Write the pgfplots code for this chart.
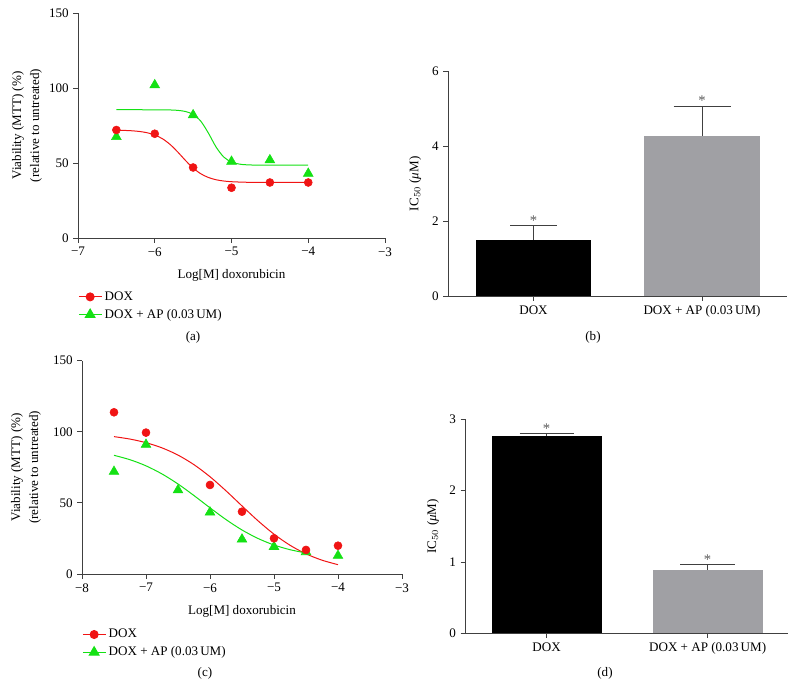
\documentclass[border=0pt]{standalone}
\usepackage{fontspec}
\setmainfont{Liberation Serif}
\usepackage{pgfplots}
\pgfplotsset{compat=1.18}
\definecolor{myred}{RGB}{240,20,20}
\definecolor{mygreen}{RGB}{20,225,20}
\definecolor{axgray}{RGB}{64,64,64}
\definecolor{bargray}{RGB}{160,160,164}
\definecolor{stargray}{RGB}{90,90,90}
\newcommand{\fs}{\fontsize{9.8}{11}\selectfont}
\pgfplotsset{
  base/.style={
    scale only axis, axis lines=left,
    axis line style={axgray, line width=0.7pt, -},
    tick align=outside, tick style={axgray, line width=0.7pt},
    major tick length=3.5pt,
    font=\fs, tick label style={font=\fs},
    /pgf/number format/assume math mode=true,
    ylabel style={align=center, font=\fontsize{9.8}{13.5}\selectfont, anchor=center},
    xlabel style={anchor=center, font=\fs},
    clip=false,
  },
  curveax/.style={base,
    ymin=0, ymax=150, ytick={0,50,100,150},
    ylabel={Viability (MTT) (\%)\\(relative to untreated)},
    xlabel={Log[M] doxorubicin},
    legend style={draw=none, fill=none, font=\fs, inner sep=0pt, row sep=1.2pt},
    legend cell align=left,
  },
  barax/.style={base,
    xmin=-0.507, xmax=1.504, xtick={0,1},
    xticklabels={DOX, DOX + AP (0.03\,UM)},
    ymin=0,
    ylabel={IC$_{50}$ (\textit{μ}M)},
  },
  redm/.style={only marks, mark=*, mark size=3pt, color=myred},
  greenm/.style={only marks, mark=triangle*, mark size=4.2pt, color=mygreen},
  redc/.style={no marks, myred, line width=0.75pt, smooth},
  greenc/.style={no marks, mygreen, line width=0.75pt, smooth},
  errb/.style={error bars/.cd, y dir=plus, y explicit,
    error bar style={axgray, line width=0.7pt},
    error mark options={rotate=90, axgray, line width=0.7pt, mark size=#1}},
  star/.style={draw=none, no marks, nodes near coords={*},
    every node near coord/.append style={anchor=south, text=stargray, inner sep=0.5pt, yshift=-0.5pt, font=\fontsize{11}{12}\selectfont}},
}
\begin{document}
\begin{tikzpicture}
\useasboundingbox (0,0) rectangle (597.75pt,516pt);
% ---------------- (a)
\begin{axis}[curveax, at={(58.5pt,337.5pt)}, anchor=south west,
  width=230.25pt, height=168.75pt,
  xmin=-7, xmax=-3, xtick={-7,-6,-5,-4,-3},
  xticklabels={−7,−6,−5,−4,−3},
  ylabel style={at={(axis description cs:-0.166,0.5)}},
  xlabel style={at={(axis description cs:0.5,-0.1676)}},
  legend style={at={(axis description cs:0,-0.225)}, anchor=north west}]
\addlegendimage{myred, line width=0.75pt, mark=*, mark size=3pt}
\addlegendentry{DOX}
\addlegendimage{mygreen, line width=0.75pt, mark=triangle*, mark size=4.2pt}
\addlegendentry{DOX + AP (0.03\,UM)}
\addplot[redc, forget plot] coordinates {
(-6.5,71.85)(-6.4,71.72)(-6.3,71.48)(-6.2,71.02)(-6.1,70.18)(-6.0,68.68)
(-5.9,66.18)(-5.8,62.36)(-5.7,57.30)(-5.6,51.71)(-5.5,46.64)(-5.4,42.82)
(-5.3,40.32)(-5.2,38.82)(-5.1,37.98)(-5.0,37.52)(-4.8,37.15)(-4.5,37.03)(-4.0,37.0)};
\addplot[greenc, forget plot] coordinates {
(-6.5,85.5)(-6.0,85.48)(-5.8,85.35)(-5.7,85.08)(-5.6,84.33)(-5.5,82.37)
(-5.4,77.86)(-5.3,69.85)(-5.2,60.57)(-5.1,53.93)(-5.0,50.63)(-4.9,49.28)
(-4.8,48.78)(-4.6,48.55)(-4.0,48.5)};
\addplot[greenm, forget plot] coordinates {
(-6.5,67.5)(-6,102)(-5.5,82)(-5,51)(-4.5,52)(-4,43)};
\addplot[redm, forget plot] coordinates {
(-6.5,72)(-6,69.5)(-5.5,47)(-5,33.5)(-4.5,37)(-4,37)};
\end{axis}
% ---------------- (b)
\begin{axis}[barax, at={(336pt,293.8pt)}, anchor=south west,
  width=254.25pt, height=168.75pt,
  ymax=6, ytick={0,2,4,6},
  ylabel style={at={(axis description cs:-0.097,0.5)}}]
\addplot[ybar, bar width=0.683, bar shift=0pt, fill=black, draw=none, errb=17.6pt]
  coordinates {(0,1.51) +- (0,0.37)};
\addplot[ybar, bar width=0.683, bar shift=0pt, fill=bargray, draw=none, errb=21.4pt]
  coordinates {(1,4.28) +- (0,0.79)};
\addplot[star] coordinates {(0,1.88)(1,5.07)};
\end{axis}
% ---------------- (c)
\begin{axis}[curveax, at={(61.5pt,85.5pt)}, anchor=south west,
  width=240pt, height=160pt,
  xmin=-8, xmax=-3, xtick={-8,-7,-6,-5,-4,-3},
  xticklabels={−8,−7,−6,−5,−4,−3},
  ylabel style={at={(axis description cs:-0.175,0.5)}},
  xlabel style={at={(axis description cs:0.5,-0.177)}},
  legend style={at={(axis description cs:0,-0.245)}, anchor=north west}]
\addlegendimage{myred, line width=0.75pt, mark=*, mark size=3pt}
\addlegendentry{DOX}
\addlegendimage{mygreen, line width=0.75pt, mark=triangle*, mark size=4.2pt}
\addlegendentry{DOX + AP (0.03\,UM)}
\addplot[redc, forget plot] coordinates {
(-7.5,96.59)(-7.25,94.86)(-7.0,92.33)(-6.75,88.68)(-6.5,83.61)(-6.25,76.86)
(-6.0,68.39)(-5.75,58.49)(-5.5,47.86)(-5.25,37.41)(-5.0,28.02)(-4.75,20.22)
(-4.5,14.17)(-4.25,9.71)(-4.0,6.55)};
\addplot[greenc, forget plot] coordinates {
(-7.5,83.45)(-7.25,80.35)(-7.0,76.05)(-6.75,70.35)(-6.5,63.29)(-6.25,55.15)
(-6.0,46.53)(-5.75,38.27)(-5.5,30.95)(-5.25,24.98)(-5.0,20.38)(-4.75,17.09)(-4.5,14.75)};
\addplot[greenm, forget plot] coordinates {
(-7.5,72)(-7,91)(-6.5,59)(-6,43.4)(-5.5,24.4)(-5,19.2)(-4.5,15.5)(-4,12.9)};
\addplot[redm, forget plot] coordinates {
(-7.5,113.7)(-7,99.4)(-6,62.6)(-5.5,43.8)(-5,25.1)(-4.5,16.9)(-4,19.9)};
\end{axis}
% ---------------- (d)
\begin{axis}[barax, at={(349pt,41pt)}, anchor=south west,
  width=242pt, height=160.5pt,
  xmin=-0.505, xmax=1.499,
  ymax=3, ytick={0,1,2,3},
  ylabel style={at={(axis description cs:-0.100,0.5)}}]
\addplot[ybar, bar width=0.683, bar shift=0pt, fill=black, draw=none, errb=20.25pt]
  coordinates {(0,2.77) +- (0,0.03)};
\addplot[ybar, bar width=0.683, bar shift=0pt, fill=bargray, draw=none, errb=20.6pt]
  coordinates {(1,0.888) +- (0,0.079)};
\addplot[star] coordinates {(0,2.80)(1,0.967)};
\end{axis}
% panel letters
\node[font=\fs] at (144.75pt,263.25pt) {(a)};
\node[font=\fs] at (444.75pt,263.25pt) {(b)};
\node[font=\fs] at (153.75pt,11.25pt) {(c)};
\node[font=\fs] at (453.75pt,11.25pt) {(d)};
\end{tikzpicture}
\end{document}
